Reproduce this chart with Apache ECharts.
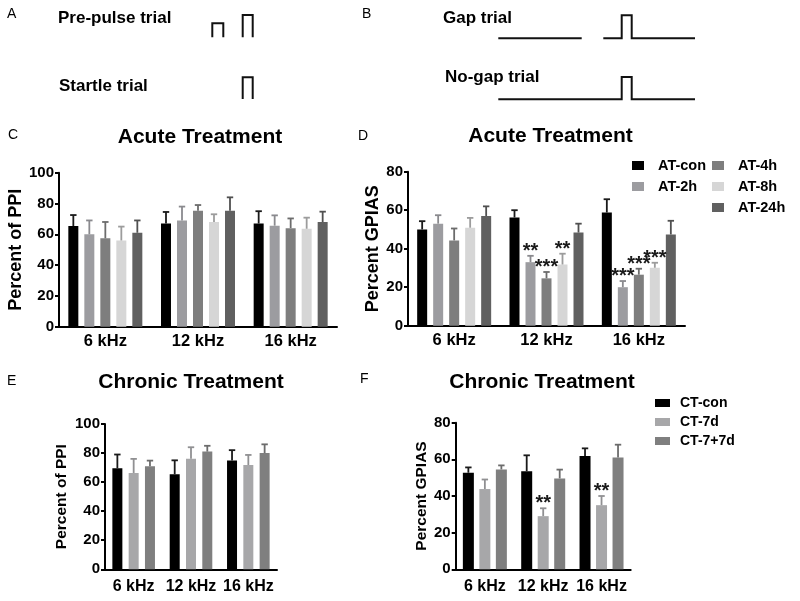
<!DOCTYPE html>
<html><head><meta charset="utf-8">
<script src="https://cdn.jsdelivr.net/npm/echarts@6/dist/echarts.min.js"></script>
<style>html,body{margin:0;padding:0;background:#fff}#c{width:800px;height:601px}</style>
</head><body><div id="c"></div>
<script>
// ---------- categories & axes ----------
const freqs = ['6 kHz', '12 kHz', '16 kHz'];
const ppiMax = 100, gpiasMax = 80, tickStep = 20;

// ---------- Panel C : Acute, Percent of PPI ----------
const acuteNames = ['AT-con', 'AT-2h', 'AT-4h', 'AT-8h', 'AT-24h'];
const cAtCon = [65.4, 67, 67],    cAtConSem = [7.1, 7.5, 8];
const cAt2h  = [60, 69, 65.6],    cAt2hSem  = [9, 9, 6.7];
const cAt4h  = [57.4, 75.3, 64],  cAt4hSem  = [10.6, 3.7, 6.3];
const cAt8h  = [56, 68, 63.6],    cAt8hSem  = [9, 5, 7.2];
const cAt24h = [61, 75.3, 68],    cAt24hSem = [8, 8.7, 6.7];

// ---------- Panel D : Acute, Percent GPIAS ----------
const dAtCon = [50, 56.2, 58.8],  dAtConSem = [4.3, 3.8, 6.9];
const dAt2h  = [53, 33, 20],      dAt2hSem  = [4.4, 3.3, 3.2];
const dAt4h  = [44.3, 24.6, 26.5],dAt4hSem  = [6.2, 3.3, 3.1];
const dAt8h  = [50.9, 31.8, 30.1],dAt8hSem  = [5.1, 5.6, 2.6];
const dAt24h = [57, 48.4, 47.4],  dAt24hSem = [5, 4.6, 7.1];
const dAtConSig = ['', '', ''];
const dAt2hSig  = ['', '**', '***'];
const dAt4hSig  = ['', '***', '***'];
const dAt8hSig  = ['', '**', '***'];
const dAt24hSig = ['', '', ''];

// ---------- Panel E : Chronic, Percent of PPI ----------
const chronicNames = ['CT-con', 'CT-7d', 'CT-7+7d'];
const eCtCon = [69.5, 65.4, 74.8], eCtConSem = [9.5, 9.6, 7.2];
const eCt7d  = [66.3, 76, 71.8],   eCt7dSem  = [9.7, 8, 6.9];
const eCt77d = [71, 81, 80],       eCt77dSem = [3.8, 4, 6];

// ---------- Panel F : Chronic, Percent GPIAS ----------
const fCtCon = [52.7, 53.5, 61.8], fCtConSem = [2.9, 8.7, 4.2];
const fCt7d  = [43.8, 29, 35],     fCt7dSem  = [5.2, 4.3, 5];
const fCt77d = [54.5, 49.6, 61],   fCt77dSem = [2.2, 4.8, 7];
const fCt7dSig = ['', '**', '**'];

// ---------- styles ----------
const FONT = '"Liberation Sans", Arial, Helvetica, sans-serif';
const acuteColors = ['#000000', '#9c9ca0', '#7e7e7e', '#d6d6d6', '#606060'];
const acuteErr    = ['#1a1a1a', '#8a8a8e', '#6c6c6c', '#9c9c9c', '#505050'];
const chronicColors = ['#000000', '#a7a7a9', '#7f7f7f'];
const chronicErr    = ['#1a1a1a', '#909092', '#6c6c6c'];

function panelSeries(g, names, means, sems, sigs, colors, errColors, bw, gapRatio) {
  const out = [];
  const n = names.length;
  names.forEach((nm, i) => {
    out.push({
      type: 'bar', name: nm, xAxisIndex: g, yAxisIndex: g,
      data: means[i], barWidth: bw, barGap: (gapRatio * 100) + '%',
      itemStyle: { color: colors[i] }, silent: true, z: 2
    });
  });
  const items = [], starList = [], errC = [];
  names.forEach((nm, i) => {
    means[i].forEach((m, k) => {
      items.push([k, i, m, m + sems[i][k]]);
      starList.push(sigs && sigs[i] ? sigs[i][k] : '');
      errC.push(errColors[i]);
    });
  });
  out.push({
    type: 'custom', xAxisIndex: g, yAxisIndex: g, silent: true, z: 5,
    data: items, encode: { x: 0, y: 3 },
    renderItem: function (params, api) {
      const cat = api.value(0), s = api.value(1), m = api.value(2), t = api.value(3);
      const p0 = api.coord([cat, m]);
      const p1 = api.coord([cat, t]);
      const x = p0[0] + (s - (n - 1) / 2) * bw * (1 + gapRatio);
      const c = errC[params.dataIndex];
      const children = [
        { type: 'line', shape: { x1: x, y1: p0[1], x2: x, y2: p1[1] }, style: { stroke: c, lineWidth: 1.8 } },
        { type: 'line', shape: { x1: x - 3.2, y1: p1[1], x2: x + 3.2, y2: p1[1] }, style: { stroke: c, lineWidth: 1.8 } }
      ];
      const st = starList[params.dataIndex];
      if (st) {
        children.push({
          type: 'text', x: x, y: p1[1] - 4.5,
          style: { text: st, fill: '#1a1a1a', font: 'bold 20px ' + FONT,
                   align: 'center', verticalAlign: 'middle', textAlign: 'center', textVerticalAlign: 'middle' }
        });
      }
      return { type: 'group', children: children };
    }
  });
  return out;
}

function xAx(g, size, margin) {
  return {
    type: 'category', gridIndex: g, data: freqs,
    axisLine: { lineStyle: { color: '#000', width: 2 } },
    axisTick: { show: false },
    axisLabel: { interval: 0, hideOverlap: false, color: '#000', fontWeight: 'bold', fontSize: size, fontFamily: FONT, margin: margin }
  };
}
function yAx(g, max, name, nameSize, nameGap) {
  return {
    type: 'value', gridIndex: g, min: 0, max: max, interval: tickStep,
    name: name, nameLocation: 'middle', nameGap: nameGap, nameRotate: 90,
    nameTextStyle: { color: '#000', fontSize: nameSize, fontWeight: 'bold', fontFamily: FONT },
    axisLine: { show: true, lineStyle: { color: '#000', width: 2 } },
    axisTick: { show: true, length: 4, lineStyle: { color: '#000', width: 2 } },
    splitLine: { show: false },
    axisLabel: { color: '#000', fontWeight: 'bold', fontSize: 15, fontFamily: FONT, margin: 5 }
  };
}

function txt(x, y, s, font, align) {
  return { type: 'text', x: x, y: y, silent: true,
    style: { text: s, font: font, fill: '#000', align: align || 'left', verticalAlign: 'middle',
             textAlign: align || 'left', textVerticalAlign: 'middle' } };
}
function pl(points) {
  return { type: 'polyline', silent: true, shape: { points: points },
    style: { stroke: '#111', lineWidth: 2, fill: null } };
}

const letterFont = '14px ' + FONT;
const trialFont = 'bold 17px ' + FONT;
const titleFont = 'bold 21px ' + FONT;

const series = [].concat(
  panelSeries(0, acuteNames, [cAtCon, cAt2h, cAt4h, cAt8h, cAt24h],
    [cAtConSem, cAt2hSem, cAt4hSem, cAt8hSem, cAt24hSem], null, acuteColors, acuteErr, 10, 0.6),
  panelSeries(1, acuteNames, [dAtCon, dAt2h, dAt4h, dAt8h, dAt24h],
    [dAtConSem, dAt2hSem, dAt4hSem, dAt8hSem, dAt24hSem],
    [dAtConSig, dAt2hSig, dAt4hSig, dAt8hSig, dAt24hSig], acuteColors, acuteErr, 10, 0.6),
  panelSeries(2, chronicNames, [eCtCon, eCt7d, eCt77d],
    [eCtConSem, eCt7dSem, eCt77dSem], null, chronicColors, chronicErr, 10, 0.63),
  panelSeries(3, chronicNames, [fCtCon, fCt7d, fCt77d],
    [fCtConSem, fCt7dSem, fCt77dSem], [['', '', ''], fCt7dSig, ['', '', '']], chronicColors, chronicErr, 11, 0.5)
);

const legendText = (size, pad) => ({ color: '#000', fontWeight: 'bold', fontSize: size, fontFamily: FONT, padding: [0, 0, 0, pad] });

const option = {
  animation: false,
  backgroundColor: '#fff',
  grid: [
    { left: 59, top: 172.7, width: 278, height: 154 },
    { left: 408, top: 171.7, width: 277, height: 154 },
    { left: 105, top: 424, width: 172, height: 145.3 },
    { left: 455.7, top: 422.7, width: 175, height: 146.6 }
  ],
  xAxis: [xAx(0, 16.5, 6), xAx(1, 16.5, 6), xAx(2, 16, 9), xAx(3, 16, 9)],
  yAxis: [
    yAx(0, ppiMax, 'Percent of PPI', 18, 32),
    yAx(1, gpiasMax, 'Percent GPIAS', 18, 25),
    yAx(2, ppiMax, 'Percent of PPI', 15.5, 35),
    yAx(3, gpiasMax, 'Percent GPIAS', 15.5, 24)
  ],
  legend: [
    { data: ['AT-con', 'AT-2h'], left: 627, top: 153, orient: 'vertical', icon: 'rect',
      itemWidth: 12, itemHeight: 9, itemGap: 6, selectedMode: false, textStyle: legendText(14.5, 9) },
    { data: ['AT-4h', 'AT-8h', 'AT-24h'], left: 707, top: 153, orient: 'vertical', icon: 'rect',
      itemWidth: 12, itemHeight: 9, itemGap: 6, selectedMode: false, textStyle: legendText(14.5, 9) },
    { data: ['CT-con', 'CT-7d', 'CT-7+7d'], left: 650, top: 391, orient: 'vertical', icon: 'rect',
      itemWidth: 15, itemHeight: 8, itemGap: 5, selectedMode: false, textStyle: legendText(14, 5) }
  ],
  graphic: [
    txt(7, 14.5, 'A', letterFont), txt(362, 14.5, 'B', letterFont),
    txt(8, 135.5, 'C', letterFont), txt(358, 136, 'D', letterFont),
    txt(7, 381, 'E', letterFont), txt(360, 379.5, 'F', letterFont),
    txt(58, 18.5, 'Pre-pulse trial', trialFont), txt(59, 86.5, 'Startle trial', trialFont),
    txt(443, 18, 'Gap trial', trialFont), txt(445, 77, 'No-gap trial', trialFont),
    txt(200, 137, 'Acute Treatment', titleFont, 'center'),
    txt(550.5, 136, 'Acute Treatment', titleFont, 'center'),
    txt(191, 382.5, 'Chronic Treatment', titleFont, 'center'),
    txt(542, 382, 'Chronic Treatment', titleFont, 'center'),
    pl([[212.3, 37.3], [212.3, 23.3], [223.3, 23.3], [223.3, 37.3]]),
    pl([[242.7, 37.3], [242.7, 15], [252.7, 15], [252.7, 37.3]]),
    pl([[242.7, 99], [242.7, 77.3], [252.7, 77.3], [252.7, 99]]),
    pl([[498.3, 38.3], [581.7, 38.3]]),
    pl([[603.3, 38.3], [621.7, 38.3], [621.7, 15.3], [631.7, 15.3], [631.7, 38.3], [695, 38.3]]),
    pl([[498.3, 99.3], [621.7, 99.3], [621.7, 77], [631.7, 77], [631.7, 99.3], [695, 99.3]])
  ],
  series: series
};

const chart = echarts.init(document.getElementById('c'), null, { renderer: 'canvas' });
chart.setOption(option);
</script>
</body></html>
